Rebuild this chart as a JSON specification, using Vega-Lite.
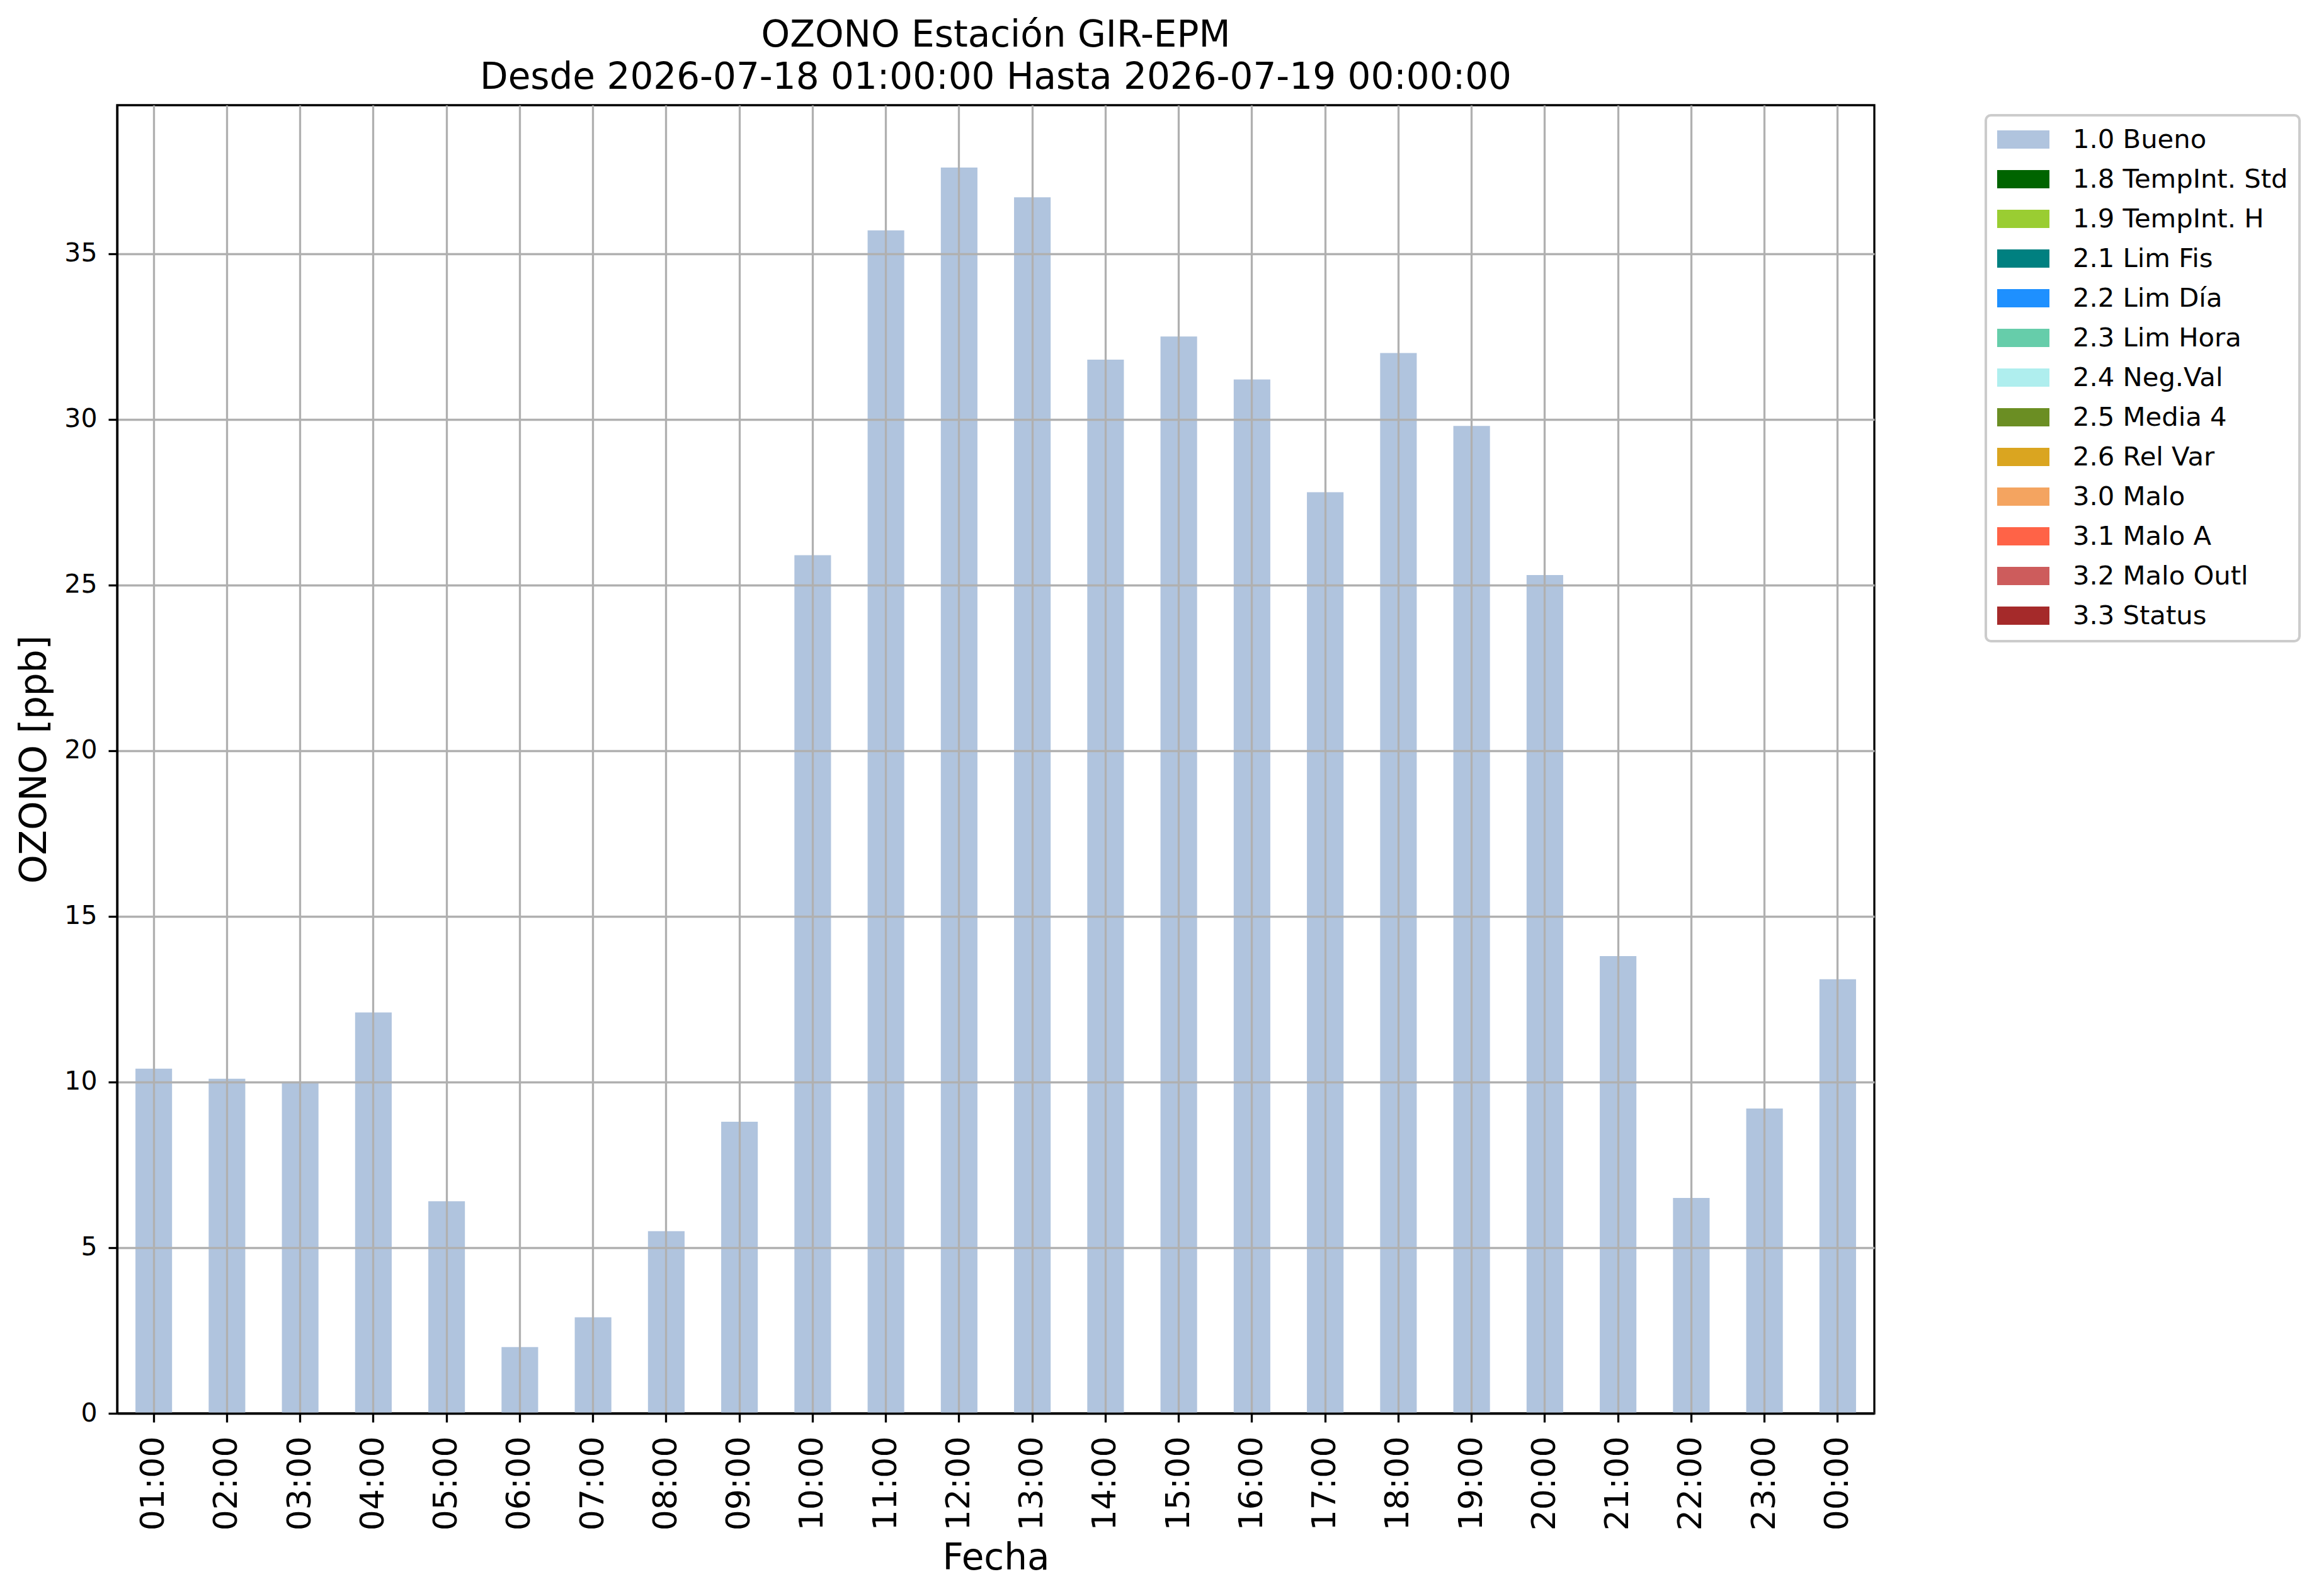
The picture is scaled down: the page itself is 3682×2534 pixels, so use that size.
{
  "$schema": "https://vega.github.io/schema/vega-lite/v6.json",
  "autosize": {"type": "none"},
  "padding": {"left": 186, "top": 167, "right": 706, "bottom": 290},
  "width": 2790,
  "height": 2077,
  "background": "white",
  "title": {
    "text": ["OZONO Estación GIR-EPM", "Desde 2026-07-18 01:00:00 Hasta 2026-07-19 00:00:00"],
    "font": "DejaVu Sans",
    "fontSize": 58,
    "fontWeight": "normal",
    "color": "black",
    "anchor": "middle",
    "baseline": "bottom",
    "lineHeight": 67,
    "offset": -44
  },
  "data": {
    "values": [
      {"hora": "01:00", "valor": 10.4, "estado": "1.0 Bueno"},
      {"hora": "02:00", "valor": 10.1, "estado": "1.0 Bueno"},
      {"hora": "03:00", "valor": 10.0, "estado": "1.0 Bueno"},
      {"hora": "04:00", "valor": 12.1, "estado": "1.0 Bueno"},
      {"hora": "05:00", "valor": 6.4, "estado": "1.0 Bueno"},
      {"hora": "06:00", "valor": 2.0, "estado": "1.0 Bueno"},
      {"hora": "07:00", "valor": 2.9, "estado": "1.0 Bueno"},
      {"hora": "08:00", "valor": 5.5, "estado": "1.0 Bueno"},
      {"hora": "09:00", "valor": 8.8, "estado": "1.0 Bueno"},
      {"hora": "10:00", "valor": 25.9, "estado": "1.0 Bueno"},
      {"hora": "11:00", "valor": 35.7, "estado": "1.0 Bueno"},
      {"hora": "12:00", "valor": 37.6, "estado": "1.0 Bueno"},
      {"hora": "13:00", "valor": 36.7, "estado": "1.0 Bueno"},
      {"hora": "14:00", "valor": 31.8, "estado": "1.0 Bueno"},
      {"hora": "15:00", "valor": 32.5, "estado": "1.0 Bueno"},
      {"hora": "16:00", "valor": 31.2, "estado": "1.0 Bueno"},
      {"hora": "17:00", "valor": 27.8, "estado": "1.0 Bueno"},
      {"hora": "18:00", "valor": 32.0, "estado": "1.0 Bueno"},
      {"hora": "19:00", "valor": 29.8, "estado": "1.0 Bueno"},
      {"hora": "20:00", "valor": 25.3, "estado": "1.0 Bueno"},
      {"hora": "21:00", "valor": 13.8, "estado": "1.0 Bueno"},
      {"hora": "22:00", "valor": 6.5, "estado": "1.0 Bueno"},
      {"hora": "23:00", "valor": 9.2, "estado": "1.0 Bueno"},
      {"hora": "00:00", "valor": 13.1, "estado": "1.0 Bueno"}
    ]
  },
  "mark": {"type": "bar"},
  "encoding": {
    "x": {
      "field": "hora",
      "type": "nominal",
      "sort": null,
      "scale": {"paddingInner": 0.5, "paddingOuter": 0.25},
      "axis": {
        "title": "Fecha",
        "zindex": 1,
        "labelAngle": 270,
        "labelFontSize": 52,
        "labelPadding": 22,
        "titlePadding": 16,
        "bandPosition": 0.5
      }
    },
    "y": {
      "field": "valor",
      "type": "quantitative",
      "scale": {"domain": [0, 39.48], "nice": false, "zero": true},
      "axis": {
        "title": "OZONO [ppb]",
        "zindex": 1,
        "values": [0, 5, 10, 15, 20, 25, 30, 35],
        "labelFontSize": 41,
        "labelPadding": 18,
        "titlePadding": 17
      }
    },
    "color": {
      "field": "estado",
      "type": "nominal",
      "scale": {
        "domain": ["1.0 Bueno", "1.8 TempInt. Std", "1.9 TempInt. H", "2.1 Lim Fis", "2.2 Lim Día", "2.3 Lim Hora", "2.4 Neg.Val", "2.5 Media 4", "2.6 Rel Var", "3.0 Malo", "3.1 Malo A", "3.2 Malo Outl", "3.3 Status"],
        "range": ["#b0c4de", "#006400", "#9acd32", "#008080", "#1e90ff", "#66cdaa", "#afeeee", "#6b8e23", "#daa520", "#f4a460", "#ff6347", "#cd5c5c", "#a52a2a"]
      },
      "legend": {
        "title": null,
        "orient": "none",
        "legendX": 2967,
        "legendY": 16,
        "symbolType": "M-1,-0.35L1,-0.35L1,0.35L-1,0.35Z",
        "symbolSize": 6889,
        "symbolStrokeWidth": 0,
        "symbolOpacity": 1,
        "clipHeight": 41,
        "rowPadding": 20,
        "labelOffset": 37,
        "labelFontSize": 41.7,
        "labelFont": "DejaVu Sans",
        "labelColor": "black",
        "labelLimit": 800,
        "padding": 18,
        "fillColor": "white",
        "strokeColor": "#cccccc",
        "cornerRadius": 8
      }
    }
  },
  "config": {
    "font": "DejaVu Sans",
    "view": {"stroke": "black", "strokeWidth": 3.3},
    "legend": {"strokeWidth": 4},
    "axis": {
      "zindex": 1,
      "grid": true,
      "gridColor": "#b0b0b0",
      "gridWidth": 3.3,
      "gridOpacity": 1,
      "domainColor": "black",
      "domainWidth": 3.3,
      "tickColor": "black",
      "tickWidth": 3.3,
      "tickSize": 14,
      "labelColor": "black",
      "labelFont": "DejaVu Sans",
      "titleColor": "black",
      "titleFont": "DejaVu Sans",
      "titleFontSize": 58,
      "titleFontWeight": "normal"
    }
  }
}
